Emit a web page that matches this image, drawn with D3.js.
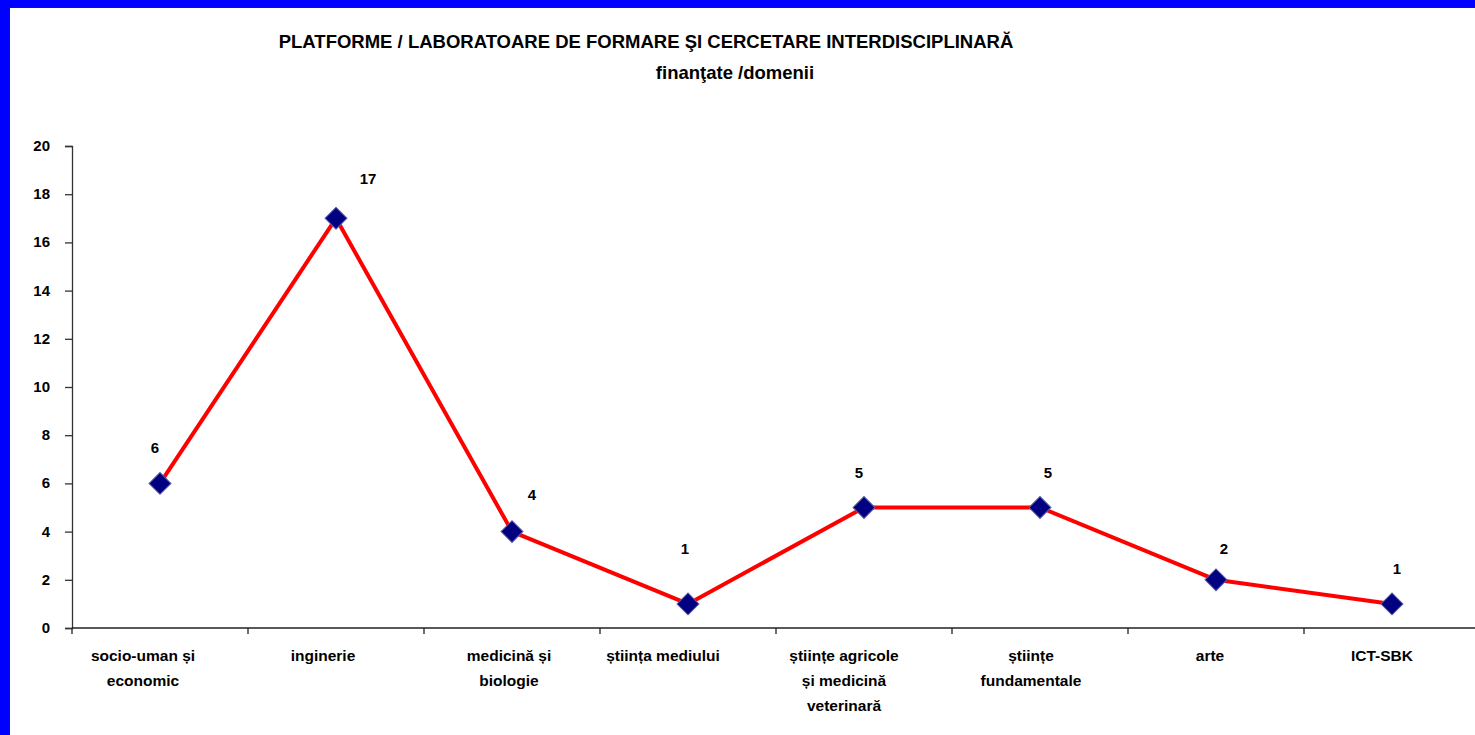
<!DOCTYPE html>
<html>
<head>
<meta charset="utf-8">
<script src="https://cdn.jsdelivr.net/npm/d3@7"></script>
<style>
  html, body { margin: 0; padding: 0; background: #fff; }
  svg { display: block; }
  text { font-family: "Liberation Sans", Arial, sans-serif; font-weight: bold; fill: #000; }
</style>
</head>
<body>
<script>
// Domains (wrapped labels, one entry per line)
const categories = [
  ["socio-uman și", "economic"],
  ["inginerie"],
  ["medicină și", "biologie"],
  ["știința mediului"],
  ["științe agricole", "și medicină", "veterinară"],
  ["științe", "fundamentale"],
  ["arte"],
  ["ICT-SBK"]
];
// Funded platforms / laboratories per domain
const values = [6, 17, 4, 1, 5, 5, 2, 1];
const yTicks = [0, 2, 4, 6, 8, 10, 12, 14, 16, 18, 20];
const titleLine1 = "PLATFORME / LABORATOARE DE FORMARE ŞI CERCETARE INTERDISCIPLINARĂ";
const titleLine2 = "finanţate /domenii";

// Layout: per-point value label nudges (dx, dy) and category label shifts, in pixels
const labelNudge = [[-5, -36], [32, -40], [20, -38], [-3, -56], [-5, -36], [8, -36], [8, -32], [5, -36]];
const catShift = [-17, -13, -3, -25, -20, -9, -6, -10];

const W = 1475, H = 735;
const svg = d3.select("body").append("svg").attr("width", W).attr("height", H);

// Frame
svg.append("rect").attr("x", 0).attr("y", 0).attr("width", W).attr("height", H).attr("fill", "#0000ff");
svg.append("rect").attr("x", 9).attr("y", 7).attr("width", W - 9).attr("height", H - 7).attr("fill", "#222");
svg.append("rect").attr("x", 10).attr("y", 8).attr("width", W - 10).attr("height", H - 8).attr("fill", "#fff");

// Titles
svg.append("text").attr("x", 646).attr("y", 48).attr("text-anchor", "middle")
  .style("font-size", "18.5px").text(titleLine1);
svg.append("text").attr("x", 735).attr("y", 79).attr("text-anchor", "middle")
  .style("font-size", "18.5px").text(titleLine2);

const plotLeft = 72, bandW = 176, plotTop = 146, plotBottom = 628;

const x = d3.scaleBand().domain(d3.range(categories.length))
  .range([plotLeft, plotLeft + bandW * categories.length]).paddingInner(0).paddingOuter(0);
const y = d3.scaleLinear().domain([0, 20]).range([plotBottom, plotTop]);

// Y axis
const yAxis = svg.append("g").attr("transform", `translate(${plotLeft},0)`)
  .call(d3.axisLeft(y).tickValues(yTicks).tickSize(7).tickPadding(15).tickFormat(d3.format("d")));
yAxis.select(".domain").attr("stroke", "#333").attr("stroke-width", 1.3);
yAxis.selectAll(".tick line").attr("stroke", "#333").attr("stroke-width", 1.3);
yAxis.selectAll(".tick text").style("font-size", "15px").style("font-family", "Liberation Sans, Arial, sans-serif")
  .style("font-weight", "bold").attr("fill", "#000").attr("dy", "0.3em");

// X axis (baseline and band-edge ticks)
const xg = svg.append("g").attr("transform", `translate(0,${plotBottom})`);
xg.append("line").attr("x1", plotLeft).attr("x2", plotLeft + bandW * categories.length)
  .attr("stroke", "#222").attr("stroke-width", 1.3);
d3.range(categories.length + 1).forEach(i => {
  const xx = plotLeft + i * bandW;
  xg.append("line").attr("x1", xx).attr("x2", xx).attr("y1", 0).attr("y2", 6)
    .attr("stroke", "#222").attr("stroke-width", 1.3);
});
categories.forEach((lines, i) => {
  const cx = x(i) + x.bandwidth() / 2 + catShift[i];
  const t = xg.append("text").attr("text-anchor", "middle").style("font-size", "15.5px");
  lines.forEach((ln, j) => {
    t.append("tspan").attr("x", cx).attr("y", 33 + j * 25).text(ln);
  });
});

// Series line
const cxOf = i => x(i) + x.bandwidth() / 2;
const line = d3.line().x((d, i) => cxOf(i)).y(d => y(d));
svg.append("path").datum(values).attr("d", line)
  .attr("fill", "none").attr("stroke", "#ff0000").attr("stroke-width", 4).attr("stroke-linejoin", "round");

// Diamond markers
const sym = d3.symbol().type(d3.symbolSquare).size(240);
svg.selectAll(".pt").data(values).enter().append("path")
  .attr("d", sym)
  .attr("transform", (d, i) => `translate(${cxOf(i)},${y(d)}) rotate(45)`)
  .attr("fill", "#000080").attr("stroke", "#5a5aa8").attr("stroke-width", 1);

// Value labels
svg.selectAll(".val").data(values).enter().append("text")
  .attr("x", (d, i) => cxOf(i) + labelNudge[i][0])
  .attr("y", (d, i) => y(d) + labelNudge[i][1] + 6)
  .attr("text-anchor", "middle").style("font-size", "15px")
  .text(d => d);
</script>
</body>
</html>
